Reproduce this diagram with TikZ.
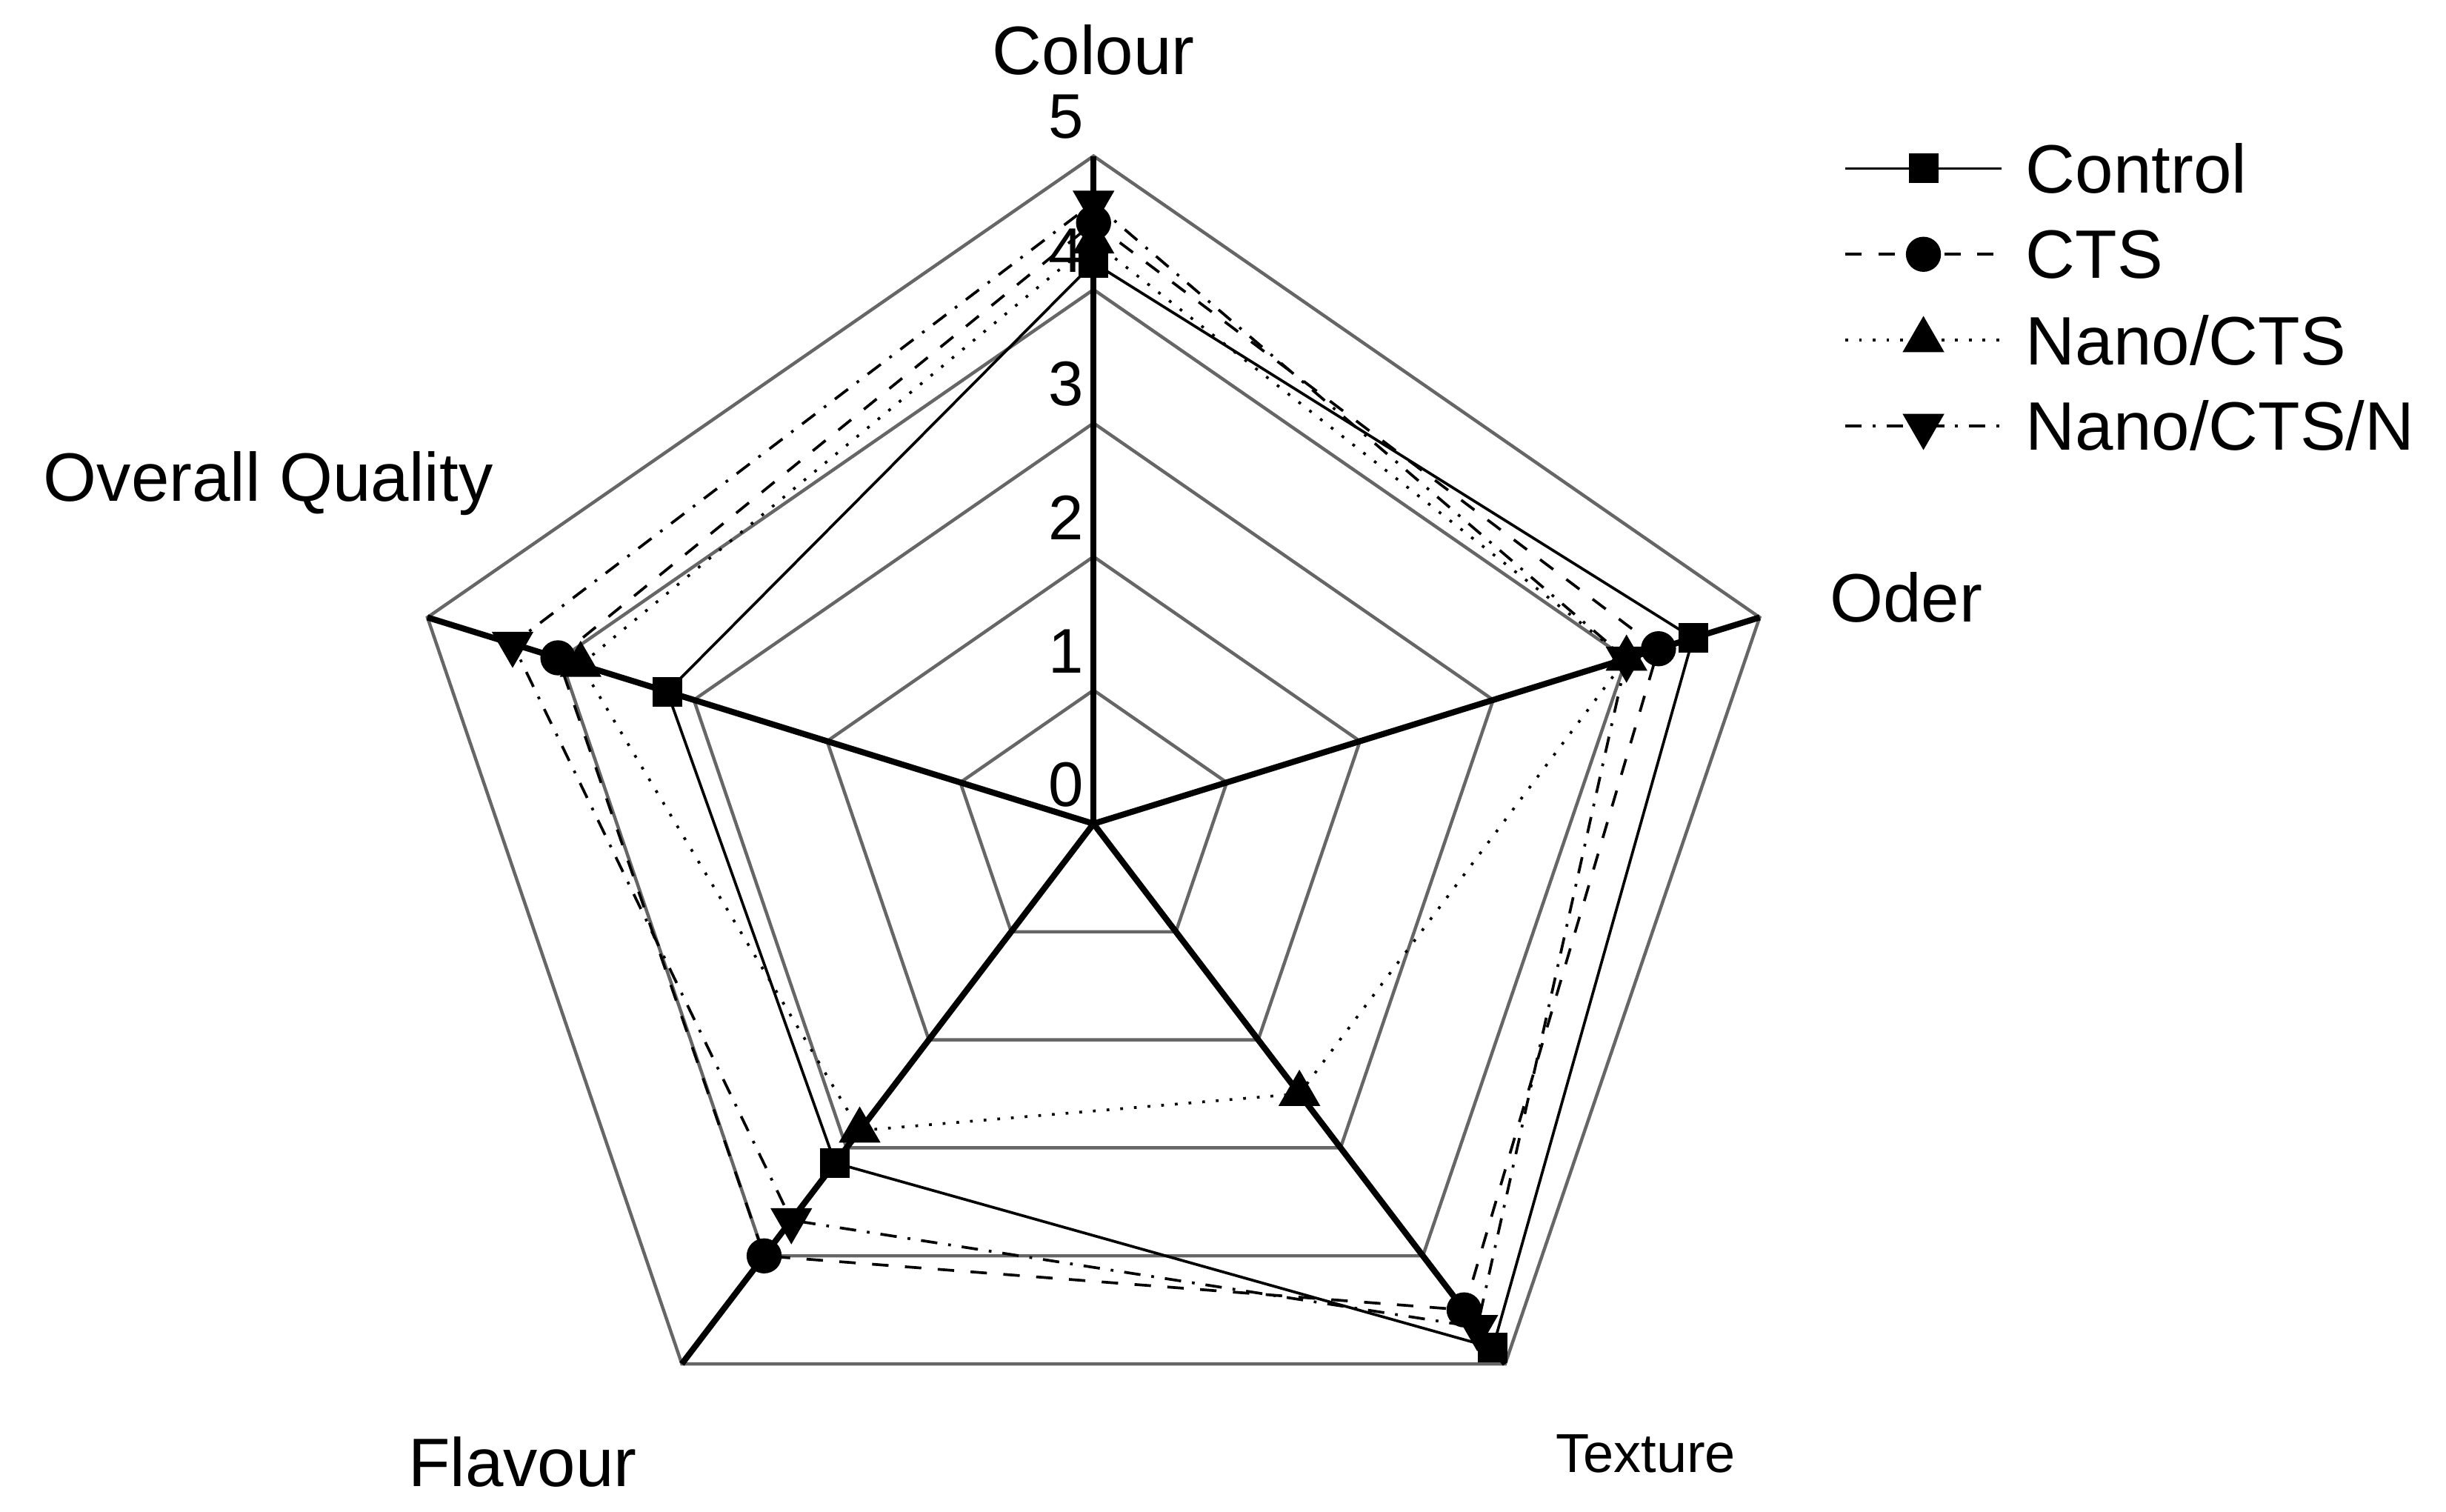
\documentclass[tikz,border=0pt]{standalone}
\usepackage{fontspec}
\setmainfont{Liberation Sans}
\usetikzlibrary{shapes.geometric}
\begin{document}
\begin{tikzpicture}[
  grid/.style={gray!80!black,line width=0.6pt},
  axis/.style={black,line width=1.1pt},
  ser/.style={black,line width=0.5pt},
  sq/.style={draw=black,fill=black,rectangle,inner sep=0pt,minimum size=5pt},
  ci/.style={draw=black,fill=black,circle,inner sep=0pt,minimum size=6pt},
  tu/.style={draw=black,fill=black,regular polygon,regular polygon sides=3,inner sep=0pt,minimum size=8pt},
  td/.style={tu,shape border rotate=180},
  lab/.style={font=\fontsize{12.5}{14}\selectfont},
  tick/.style={font=\fontsize{11.5}{13}\selectfont,anchor=east,inner sep=1pt}
]
\useasboundingbox (0,0) rectangle (15.68,9.69);
\begin{scope}[shift={(7.01,4.41)},xscale=1.049]
  \foreach \r in {1,...,5}{
    \draw[grid] (90:\r*0.856) -- (18:\r*0.856) -- (-54:\r*0.856) -- (-126:\r*0.856) -- (162:\r*0.856) -- cycle;}
  \coordinate (o) at (0,0);
  \foreach \a/\n in {90/A,18/B,-54/C,-126/D,162/E}{
    \coordinate (v\n) at (\a:4.28);
    \draw[axis] (o) -- (v\n);}
  \foreach \v in {0,...,5}{ \node[tick] (t\v) at (-0.02,\v*0.856+0.25) {\v}; }
  % Control
  \draw[ser] (90:4.2*0.856) coordinate (a1) -- (18:4.5*0.856) coordinate (b1) -- (-54:4.85*0.856) coordinate (c1) -- (-126:3.14*0.856) coordinate (d1) -- (162:3.2*0.856) coordinate (e1) -- cycle;
  % CTS
  \draw[ser,dashed] (90:4.5*0.856) coordinate (a2) -- (18:4.24*0.856) coordinate (b2) -- (-54:4.5*0.856) coordinate (c2) -- (-126:4.0*0.856) coordinate (d2) -- (162:4.02*0.856) coordinate (e2) -- cycle;
  % Nano/CTS
  \draw[ser,dotted] (90:4.36*0.856) coordinate (a3) -- (18:4.0*0.856) coordinate (b3) -- (-54:2.5*0.856) coordinate (c3) -- (-126:2.84*0.856) coordinate (d3) -- (162:3.85*0.856) coordinate (e3) -- cycle;
  % Nano/CTS/N
  \draw[ser,dash dot] (90:4.65*0.856) coordinate (a4) -- (18:4.0*0.856) coordinate (b4) -- (-54:4.66*0.856) coordinate (c4) -- (-126:3.67*0.856) coordinate (d4) -- (162:4.36*0.856) coordinate (e4) -- cycle;
  \foreach \p in {a,b,c,d,e}{
    \node[sq] (m1\p) at (\p1) {};
    \node[ci] (m2\p) at (\p2) {};
    \node[tu] (m3\p) at (\p3) {};
    \node[td] (m4\p) at (\p4) {};}
\end{scope}
\node[lab] (lA) at (7.01,9.37) {Colour};
\node[lab] (lB) at (12.22,5.86) {Oder};
\node[font=\fontsize{10}{12}\selectfont] (lC) at (10.55,0.37) {Texture};
\node[lab] (lD) at (3.35,0.32) {Flavour};
\node[lab] (lE) at (1.72,6.59) {Overall Quality};
% legend
\foreach \i/\y/\st/\mk/\t in {1/8.61/solid/sq/Control,2/8.06/dashed/ci/CTS,3/7.51/dotted/tu/Nano\slash CTS,4/6.96/dash dot/td/Nano\slash CTS\slash N}{
  \coordinate (ls\i) at (11.83,\y);
  \coordinate (le\i) at (12.83,\y);
  \draw[ser,\st] (ls\i) -- (le\i);
  \node[\mk] (lm\i) at (12.33,\y) {};
  \node[lab,anchor=west,inner sep=0pt] (lt\i) at (12.98,\y) {\t};}
\end{tikzpicture}
\end{document}
